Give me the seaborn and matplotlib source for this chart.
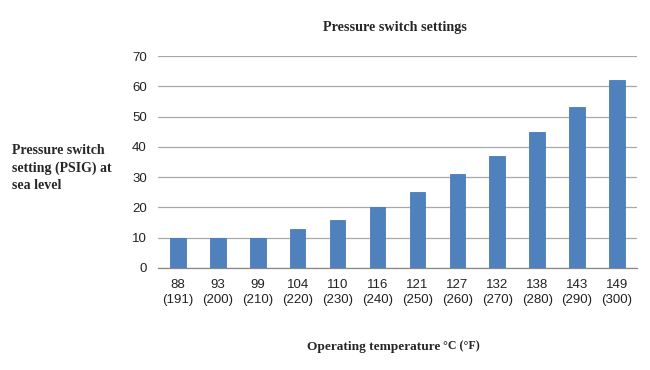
import matplotlib
matplotlib.use("Agg")
import matplotlib.pyplot as plt
import seaborn as sns
import pandas as pd
import numpy as np

celsius = ["88", "93", "99", "104", "110", "116", "121", "127", "132", "138", "143", "149"]
fahrenheit = ["191", "200", "210", "220", "230", "240", "250", "260", "270", "280", "290", "300"]
psig = [10, 10, 10, 13, 16, 20, 25, 31, 37, 45, 53, 62]
y_ticks = [0, 10, 20, 30, 40, 50, 60, 70]

labels = [f"{c}\n({f})" for c, f in zip(celsius, fahrenheit)]
df = pd.DataFrame({"temp": labels, "psig": psig})

sns.set_theme(style="white")
plt.rcParams['font.family'] = ['Liberation Sans', 'DejaVu Sans']

fig = plt.figure(figsize=(6.5, 3.7), dpi=100)
ax = fig.add_axes([0.243, 0.2757, 0.737, 0.5729])

sns.barplot(data=df, x="temp", y="psig", color="#4F81BD", saturation=1,
            width=0.39, ax=ax, zorder=3)
for p in ax.patches:
    p.set_edgecolor("#4A7CB8")
    p.set_linewidth(0.6)

ax.set_ylim(0, 70)
ax.set_yticks(y_ticks)
ax.set_xlim(-0.5, len(labels) - 0.5)
ax.yaxis.grid(True, color="#a8a8a8", linewidth=0.9, zorder=0)
ax.set_axisbelow(True)
for s in ["top", "right", "left"]:
    ax.spines[s].set_visible(False)
ax.spines["bottom"].set_color("#888888")
ax.spines["bottom"].set_linewidth(0.9)

ax.set_xlabel("")
ax.set_ylabel("")
ax.tick_params(axis="y", length=0, pad=8, labelsize=9.5, labelcolor="#222222")
ax.tick_params(axis="x", which="major", length=0, pad=8, labelsize=9.5, labelcolor="#222222")
ax.set_xticks(np.arange(-0.5, len(labels) + 0.5, 1), minor=True)
ax.tick_params(axis="x", which="minor", length=5, color="#888888", width=0.9, direction="out")
for t in ax.get_xticklabels():
    t.set_linespacing(1.35)

serif = ['Liberation Serif', 'DejaVu Serif']
fig.text(0.608, 0.927, "Pressure switch settings", ha="center", va="center",
         fontsize=10.2, fontweight="bold", family=serif)
fig.text(0.018, 0.545, "Pressure switch\nsetting (PSIG) at\nsea level", ha="left", va="center",
         fontsize=10, fontweight="bold", family=serif, linespacing=1.42)
fig.text(0.682, 0.062, "Operating temperature ", ha="right", va="center",
         fontsize=9.6, fontweight="bold", family=serif)
fig.text(0.682, 0.064, "°C (°F)", ha="left", va="center",
         fontsize=8.6, fontweight="bold", family=serif)

fig.savefig("out.png", dpi=100)
